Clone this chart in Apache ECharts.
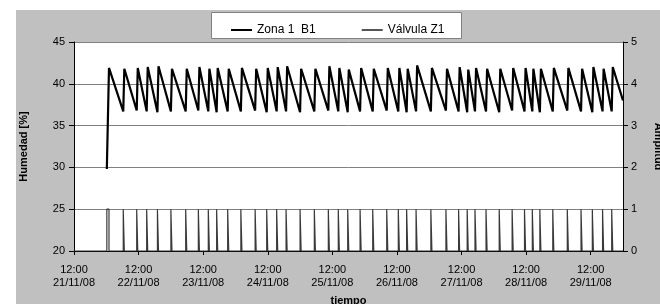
<!DOCTYPE html>
<html>
<head>
<meta charset="utf-8">
<script src="https://cdn.jsdelivr.net/npm/echarts@6/dist/echarts.min.js"></script>
<style>
html, body { margin: 0; padding: 0; background: #fff; }
#chart { width: 660px; height: 304px; }
</style>
</head>
<body>
<div id="chart"></div>
<script>
// horas desde 21/11/08 12:00
var startDate = Date.UTC(2008, 10, 21, 12, 0);
var endHour = 204;

// apertura / cierre de la válvula (horas)
var valveOn = [12.2, 18.3, 23.3, 27.0, 31.0, 36.0, 41.5, 46.2, 49.9, 53.0, 57.1, 62.0, 67.3, 71.6, 75.3, 78.8, 84.0, 89.3, 94.5, 98.2, 101.7, 106.3,
	111.0, 116.2, 120.5, 123.6, 127.1, 132.6, 138.2, 142.9, 146.1, 149.0, 153.1, 158.0, 162.8, 167.4, 170.3, 173.1, 177.9, 183.3, 188.4, 192.6, 196.4, 199.8];
var valveOff = [13.0, 18.7, 23.7, 27.4, 31.4, 36.4, 41.9, 46.6, 50.3, 53.4, 57.5, 62.4, 67.7, 72.0, 75.7, 79.2, 84.4, 89.7, 94.9, 98.6, 102.1, 106.7,
	111.4, 116.6, 120.9, 124.0, 127.5, 133.0, 138.6, 143.3, 146.5, 149.4, 153.5, 158.4, 163.2, 167.8, 170.7, 173.5, 178.3, 183.7, 188.8, 193.0, 196.8, 200.2];

// humedad al abrir (mínimo) y al cerrar (máximo) la válvula
var humMin = [29.8, 36.7, 36.8, 36.7, 36.6, 36.7, 36.7, 36.8, 36.7, 36.6, 36.7, 36.7, 36.8, 36.6, 36.7, 36.7, 36.6, 36.7, 36.8, 36.7, 36.6, 36.7,
	36.7, 36.8, 36.7, 36.6, 36.7, 36.7, 36.8, 36.7, 36.6, 36.7, 36.7, 36.6, 36.8, 36.7, 36.7, 36.6, 36.7, 36.8, 36.7, 36.6, 36.7, 36.7];
var humMax = [41.9, 41.8, 41.9, 42.0, 42.1, 41.8, 41.8, 42.0, 41.8, 41.9, 41.8, 41.9, 41.8, 41.9, 42.0, 42.1, 41.8, 41.8, 42.1, 41.9, 41.7, 41.9,
	41.8, 41.9, 41.9, 41.8, 42.2, 41.9, 41.8, 42.0, 41.7, 41.9, 41.8, 41.8, 41.9, 41.9, 41.8, 41.8, 41.9, 41.9, 41.8, 42.0, 41.8, 42.0];
var humEnd = 38.0;

var humData = [];
var valveData = [[0, 0]];
for (var i = 0; i < valveOn.length; i++) {
	humData.push([valveOn[i], humMin[i]]);
	humData.push([valveOff[i], humMax[i]]);
	valveData.push([valveOn[i], 0], [valveOn[i], 1], [valveOff[i], 1], [valveOff[i], 0]);
}
humData.push([endHour, humEnd]);
valveData.push([endHour, 0]);

function pad(n) {
	return (n < 10 ? '0' : '') + n;
}
function fmtHour(v) {
	if (v % 24 !== 0) return '';
	var d = new Date(startDate + v * 3600000);
	return pad(d.getUTCHours()) + ':' + pad(d.getUTCMinutes()) + '\n' +
		pad(d.getUTCDate()) + '/' + pad(d.getUTCMonth() + 1) + '/' + pad(d.getUTCFullYear() % 100);
}

var font = 'Liberation Sans, Arial, sans-serif';
var myChart = echarts.init(document.getElementById('chart'));
var option = {
	animation: false,
	textStyle: { fontFamily: font },
	graphic: [{
		type: 'rect',
		z: -10,
		shape: { x: 16, y: 10, width: 660, height: 300 },
		style: { fill: '#c0c0c0' }
	}, {
		type: 'rect',
		z: 1,
		shape: { x: 211.5, y: 12.5, width: 250, height: 26 },
		style: { fill: '#fff', stroke: '#808080', lineWidth: 1 }
	}],
	legend: {
		left: 226,
		top: 19,
		z: 10,
		itemGap: 46,
		itemWidth: 21,
		itemHeight: 2,
		textStyle: { fontSize: 12, color: '#000', fontFamily: font },
		data: [
			{ name: 'Zona 1  B1', icon: 'rect', itemStyle: { color: '#000' } },
			{ name: 'Válvula Z1', icon: 'rect', itemStyle: { color: '#555' } }
		]
	},
	grid: {
		left: 74,
		top: 42,
		right: 37,
		bottom: 53,
		outerBoundsMode: 'none',
		containLabel: false,
		show: true,
		backgroundColor: '#fff',
		borderWidth: 0
	},
	xAxis: {
		type: 'value',
		min: 0,
		max: endHour,
		interval: 24,
		name: 'tiempo',
		nameLocation: 'middle',
		nameGap: 44,
		nameTextStyle: { fontSize: 11, fontWeight: 'bold', color: '#000' },
		axisLine: { lineStyle: { color: '#000', width: 1 } },
		axisTick: { inside: false, length: 4, lineStyle: { color: '#000' } },
		axisLabel: {
			fontSize: 11,
			color: '#000',
			lineHeight: 13,
			margin: 12,
			showMaxLabel: false,
			formatter: fmtHour
		},
		splitLine: { show: false }
	},
	yAxis: [{
		type: 'value',
		min: 20,
		max: 45,
		interval: 5,
		name: 'Humedad [%]',
		nameLocation: 'middle',
		nameGap: 45,
		nameTextStyle: { fontSize: 11, fontWeight: 'bold', color: '#000' },
		axisLine: { show: true, lineStyle: { color: '#000', width: 1 } },
		axisTick: { show: true, inside: false, length: 5, lineStyle: { color: '#000' } },
		axisLabel: { fontSize: 11, color: '#000', margin: 9 },
		splitLine: { show: true, lineStyle: { color: '#808080', width: 1 } }
	}, {
		type: 'value',
		position: 'right',
		min: 0,
		max: 5,
		interval: 1,
		name: 'Amplitud',
		nameLocation: 'middle',
		nameRotate: -90,
		nameGap: 30,
		nameTextStyle: { fontSize: 11, fontWeight: 'bold', color: '#000' },
		axisLine: { show: true, lineStyle: { color: '#000', width: 1 } },
		axisTick: { show: true, inside: false, length: 5, lineStyle: { color: '#000' } },
		axisLabel: { fontSize: 11, color: '#000', margin: 8 },
		splitLine: { show: false }
	}],
	series: [{
		name: 'Zona 1  B1',
		type: 'line',
		yAxisIndex: 0,
		symbol: 'none',
		z: 3,
		lineStyle: { color: '#000', width: 2.2 },
		itemStyle: { color: '#000' },
		data: humData
	}, {
		name: 'Válvula Z1',
		type: 'line',
		yAxisIndex: 1,
		symbol: 'none',
		z: 2,
		lineStyle: { color: '#3a3a3a', width: 1.2 },
		itemStyle: { color: '#3a3a3a' },
		data: valveData
	}]
};
myChart.setOption(option);
</script>
</body>
</html>
